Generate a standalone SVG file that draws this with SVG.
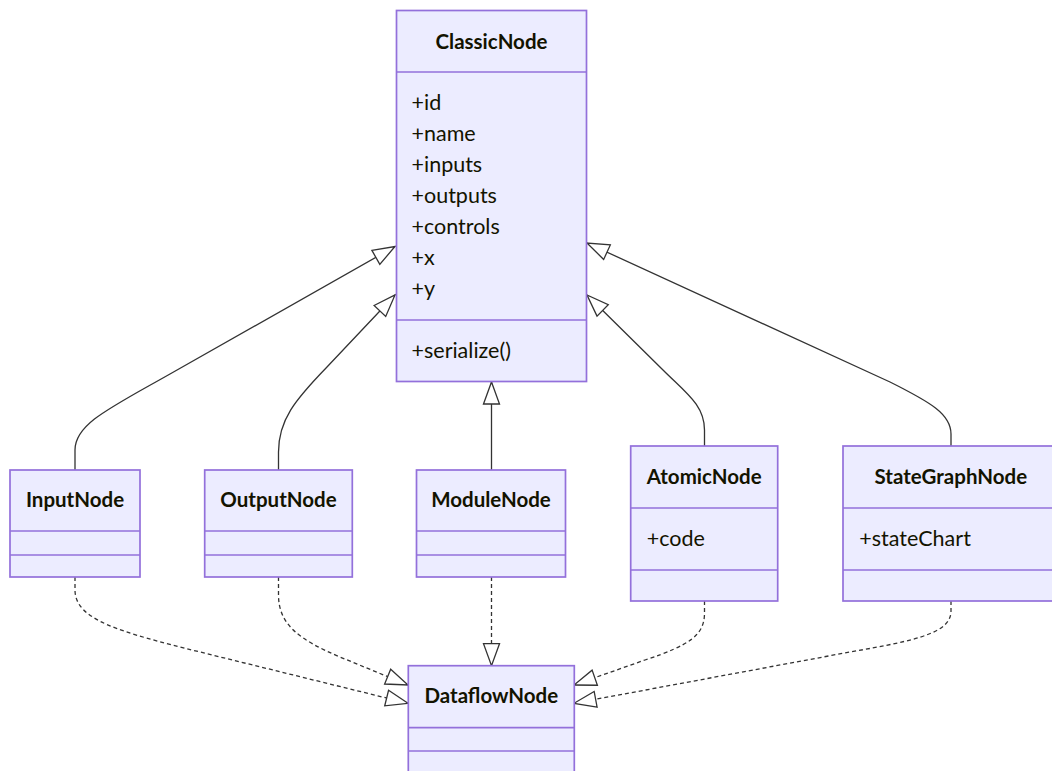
<svg xmlns="http://www.w3.org/2000/svg" width="1052" height="771" viewBox="0 0 1052 771">
  <defs>
    <style>
      .box { fill: #ECECFF; stroke: #9370DB; stroke-width: 1.7; }
      .div { stroke: #9370DB; stroke-width: 1.7; fill: none; }
      .title { font-family: Lato, "Liberation Sans", sans-serif; font-size: 20.5px; font-weight: bold; fill: #131300; text-anchor: middle; }
      .member { font-family: Lato, "Liberation Sans", sans-serif; font-size: 21.5px; fill: #131300; }
      .rel { fill: none; stroke: #333333; stroke-width: 1.3; marker-end: url(#extends); }
      .dash { stroke-dasharray: 4 3; }
    </style>
    <marker id="extends" markerUnits="userSpaceOnUse" markerWidth="30" markerHeight="30" refX="22" refY="8" orient="auto" overflow="visible">
      <path d="M0,0 L22,8 L0,16 Z" fill="#ffffff" stroke="#333333" stroke-width="1.3" stroke-linejoin="miter"/>
    </marker>
  </defs>

  <!-- inheritance and realization connectors -->
  <g id="connectors">
    <path class="rel" d="M75,470 L75,450 C75,424 110,408 170,374 L395,246.5"/>
    <path class="rel" d="M278.5,470 L278.5,452 C278.5,420 295,400 327,367 L395,295"/>
    <path class="rel" d="M491.5,470 L491.5,382"/>
    <path class="rel" d="M704.5,446 L704.5,430 C704.5,405 686,393 663,370 L587,295"/>
    <path class="rel" d="M951,446 L951,434 C951,414 930,402 890,382 L587,243"/>

    <path class="rel dash" d="M75,577 L75,590 C75,620 120,632 200,652 L408,703.3"/>
    <path class="rel dash" d="M278.5,577 L278.5,595 C278.5,625 300,640 340,657 L408,685"/>
    <path class="rel dash" d="M491.5,577 L491.5,665.7"/>
    <path class="rel dash" d="M704.5,601 L704.5,613 C704.5,635 690,645 645,660 L574,685"/>
    <path class="rel dash" d="M951,601 L951,611 C951,632 920,640 850,652 L574,703.3"/>
  </g>

  <g id="ClassicNode">
    <rect class="box" x="396.5" y="10.5" width="190" height="371"/>
    <line class="div" x1="396.5" y1="72" x2="586.5" y2="72"/>
    <line class="div" x1="396.5" y1="320" x2="586.5" y2="320"/>
    <text class="title" x="491.5" y="48.5">ClassicNode</text>
    <text class="member" x="411.5" y="110">+id</text>
    <text class="member" x="411.5" y="141">+name</text>
    <text class="member" x="411.5" y="172">+inputs</text>
    <text class="member" x="411.5" y="203">+outputs</text>
    <text class="member" x="411.5" y="234">+controls</text>
    <text class="member" x="411.5" y="265">+x</text>
    <text class="member" x="411.5" y="296">+y</text>
    <text class="member" x="411.5" y="358">+serialize()</text>
  </g>

  <g id="InputNode">
    <rect class="box" x="10" y="470" width="130" height="107"/>
    <line class="div" x1="10" y1="531" x2="140" y2="531"/>
    <line class="div" x1="10" y1="555" x2="140" y2="555"/>
    <text class="title" x="75" y="506.7">InputNode</text>
  </g>

  <g id="OutputNode">
    <rect class="box" x="204.7" y="470" width="147.6" height="107"/>
    <line class="div" x1="204.7" y1="531" x2="352.3" y2="531"/>
    <line class="div" x1="204.7" y1="555" x2="352.3" y2="555"/>
    <text class="title" x="278.5" y="506.7">OutputNode</text>
  </g>

  <g id="ModuleNode">
    <rect class="box" x="416.5" y="470" width="149" height="107"/>
    <line class="div" x1="416.5" y1="531" x2="565.5" y2="531"/>
    <line class="div" x1="416.5" y1="555" x2="565.5" y2="555"/>
    <text class="title" x="491" y="506.7">ModuleNode</text>
  </g>

  <g id="AtomicNode">
    <rect class="box" x="630.7" y="446" width="147" height="155"/>
    <line class="div" x1="630.7" y1="508" x2="777.7" y2="508"/>
    <line class="div" x1="630.7" y1="570" x2="777.7" y2="570"/>
    <text class="title" x="704.2" y="484">AtomicNode</text>
    <text class="member" x="646.7" y="546">+code</text>
  </g>

  <g id="StateGraphNode">
    <rect class="box" x="843" y="446" width="216" height="155"/>
    <line class="div" x1="843" y1="508" x2="1059" y2="508"/>
    <line class="div" x1="843" y1="570" x2="1059" y2="570"/>
    <text class="title" x="950.8" y="484">StateGraphNode</text>
    <text class="member" x="859.3" y="546">+stateChart</text>
  </g>

  <g id="DataflowNode">
    <rect class="box" x="408.3" y="665.7" width="166" height="108"/>
    <line class="div" x1="408.3" y1="727.7" x2="574.3" y2="727.7"/>
    <line class="div" x1="408.3" y1="751" x2="574.3" y2="751"/>
    <text class="title" x="491.3" y="702.7">DataflowNode</text>
  </g>
</svg>
